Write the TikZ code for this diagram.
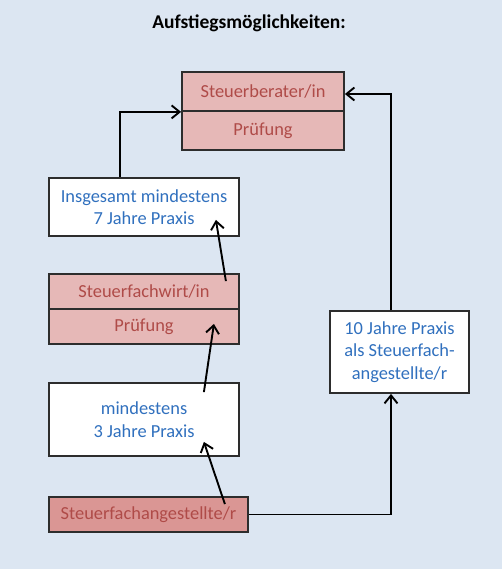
\documentclass[tikz,border=0pt]{standalone}
\usepackage{fontspec}
\setmainfont{Carlito}
\usetikzlibrary{calc}
\usetikzlibrary{arrows.meta}

\definecolor{bgblue}{RGB}{220,230,242}
\definecolor{rosefill}{RGB}{230,184,183}
\definecolor{rosedark}{RGB}{218,150,148}
\definecolor{redtext}{RGB}{175,75,72}
\definecolor{bluetext}{RGB}{48,112,190}
\definecolor{framegray}{RGB}{45,45,45}

\begin{document}
\begin{tikzpicture}[x=1pt, y=-1pt,
  boxfont/.style={font=\fontsize{18.4}{22.5}\selectfont},
  redbox/.style={boxfont, draw=framegray, line width=1.8pt, fill=rosefill, text=redtext, inner sep=0pt},
  whitebox/.style={boxfont, draw=framegray, line width=1.8pt, fill=white, text=bluetext, align=center, inner sep=0pt},
  link/.style={line width=1.9pt, -{Straight Barb[length=8pt,width=13pt]}}]
\useasboundingbox (0,0) rectangle (502,569);
\fill[bgblue] (0,0) rectangle (502,569);
\node[font=\fontsize{19.5}{22}\selectfont\bfseries] (titel) at (249,23) {Aufstiegsmöglichkeiten:};

% Berater oben
\node[redbox, minimum width=162pt, minimum height=39pt] (berater) at (263,91.5) {Steuerberater/in};
\node[redbox, minimum width=162pt, minimum height=39pt] (bpruef) at (263,130.5) {Prüfung};

% linke Spalte
\node[whitebox, minimum width=190pt, minimum height=58pt] (insg) at (144,207) {Insgesamt mindestens\\7 Jahre Praxis};
\node[redbox, minimum width=190pt, minimum height=35pt] (wirt) at (144,291.5) {Steuerfachwirt/in};
\node[redbox, minimum width=190pt, minimum height=35pt] (wpruef) at (144,326.5) {Prüfung};
\node[whitebox, minimum width=190pt, minimum height=73pt] (mind) at (144,419.5) {mindestens\\3 Jahre Praxis};
\node[redbox, fill=rosedark, minimum width=199pt, minimum height=35pt] (ang) at (148.5,514.5) {Steuerfachangestellte/r};

% rechte Spalte
\node[whitebox, minimum width=139pt, minimum height=82pt] (zehn) at (399.5,352) {10 Jahre Praxis\\als Steuerfach-\\angestellte/r};

% Pfeile
\draw[link] ($(ang.north east)+(-24,8)$) -- ($(mind.south east)+(-36,-15)$);
\draw[link] ($(mind.north east)+(-36,10)$) -- ($(wpruef.south east)+(-26,-21)$);
\draw[link] ($(wirt.north east)+(-14,8)$) -- ($(insg.south east)+(-24,-17)$);
\draw[link] ($(insg.north)+(-24,0)$) |- (berater.south west);
\draw[link] (ang.east) -| ($(zehn.south)+(-8.5,0)$);
\draw[link] ($(zehn.north)+(-8.5,0)$) |- ($(berater.east)+(0,2.5)$);
\end{tikzpicture}
\end{document}
